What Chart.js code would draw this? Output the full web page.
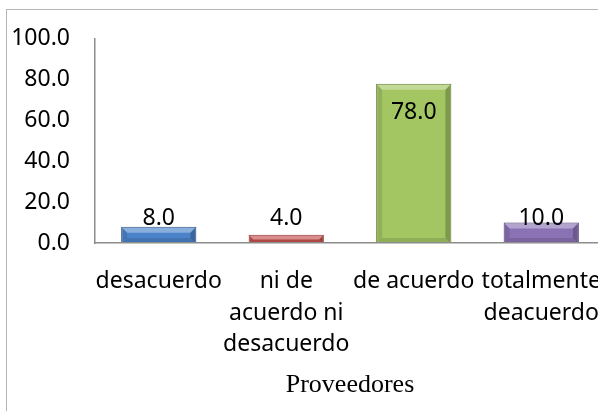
<!DOCTYPE html>
<html>
<head>
<meta charset="utf-8">
<script src="https://cdn.jsdelivr.net/npm/chart.js@4/dist/chart.umd.min.js"></script>
<style>
  body { margin: 0; overflow: hidden; background: #fff; width: 598px; height: 411px; position: relative; }
  #chart { position: absolute; left: 0; top: 0; }
  #marco { position: absolute; left: 6px; top: 9px; width: 700px; height: 500px; border: 1px solid #b5b5b5; pointer-events: none; }
</style>
</head>
<body>
<canvas id="chart" width="660" height="411"></canvas>
<div id="marco"></div>
<script>
// datos
const categorias = [
    ['desacuerdo'],
    ['ni de', 'acuerdo ni', 'desacuerdo'],
    ['de acuerdo'],
    ['totalmente', 'deacuerdo']
];
const valores = [8.0, 4.0, 78.0, 10.0];
const colores = ['#4A83C9', '#C5524E', '#A3C562', '#8B72B5'];
const bordes = ['#2E527E', '#8C3431', '#5F7A30', '#4E3A6E'];
const ticksY = [0, 20, 40, 60, 80, 100];

// biselado tipo Excel sobre cada barra
function trapecio(ctx, pts, color) {
    ctx.beginPath();
    ctx.moveTo(pts[0][0], pts[0][1]);
    pts.slice(1).forEach(p => ctx.lineTo(p[0], p[1]));
    ctx.closePath();
    ctx.fillStyle = color;
    ctx.fill();
}

const bisel = {
    id: 'bisel',
    afterDatasetDraw(chart) {
        const ctx = chart.ctx;
        const meta = chart.getDatasetMeta(0);
        ctx.save();
        meta.data.forEach((bar, i) => {
            const { x, y, base, width } = bar.getProps(['x', 'y', 'base', 'width']);
            const l = x - width / 2 + 1, r = x + width / 2 - 1, t = y + 1, b = base;
            const d = Math.min(5, (b - t) / 2);
            trapecio(ctx, [[l, t], [r, t], [r - d, t + d], [l + d, t + d]], 'rgba(255,255,255,0.35)');
            trapecio(ctx, [[l, b], [r, b], [r - d, b - d], [l + d, b - d]], 'rgba(0,0,0,0.12)');
            trapecio(ctx, [[l, t], [l + d, t + d], [l + d, b - d], [l, b]], 'rgba(0,0,0,0.10)');
            trapecio(ctx, [[r, t], [r - d, t + d], [r - d, b - d], [r, b]], 'rgba(0,0,0,0.22)');
        });
        ctx.restore();
    }
};

// etiquetas de valor encima / dentro de las barras
const etiquetas = {
    id: 'etiquetas',
    afterDatasetsDraw(chart) {
        const ctx = chart.ctx;
        const y = chart.scales.y;
        const meta = chart.getDatasetMeta(0);
        ctx.save();
        ctx.font = '23px "Noto Sans"';
        ctx.fillStyle = '#000';
        ctx.textAlign = 'center';
        ctx.textBaseline = 'middle';
        meta.data.forEach((bar, i) => {
            const v = valores[i];
            const py = v > 20 ? bar.y + 29 : y.getPixelForValue(12);
            ctx.fillText(v.toFixed(1), bar.x, py);
        });
        ctx.restore();
    }
};

const ctx = document.getElementById('chart').getContext('2d');
const grafico = new Chart(ctx, {
    type: 'bar',
    data: {
        labels: categorias,
        datasets: [{
            data: valores,
            backgroundColor: colores,
            borderColor: bordes,
            borderWidth: 1,
            categoryPercentage: 1,
            barPercentage: 0.59
        }]
    },
    options: {
        responsive: false,
        animation: false,
        devicePixelRatio: 1,
        layout: { padding: { left: 0, top: 34, right: 55, bottom: 0 } },
        plugins: {
            legend: { display: false },
            tooltip: { enabled: false }
        },
        scales: {
            x: {
                grid: { display: false, drawTicks: false },
                border: { display: true, color: '#8c8c8c', width: 1.5, z: 1 },
                ticks: {
                    color: '#000',
                    padding: 22,
                    maxRotation: 0,
                    autoSkip: false,
                    font: { family: 'Noto Sans', size: 23, lineHeight: 1.39 }
                },
                title: {
                    display: true,
                    text: 'Proveedores',
                    color: '#000',
                    font: { family: 'Liberation Serif', size: 26 },
                    padding: { top: 0, bottom: 10 }
                },
                afterFit: s => { s.height = 168; }
            },
            y: {
                min: 0,
                max: 100,
                afterBuildTicks: s => { s.ticks = ticksY.map(v => ({ value: v })); },
                grid: { display: false, drawTicks: false },
                border: { display: true, color: '#8c8c8c', width: 1.5 },
                ticks: {
                    color: '#000',
                    padding: 25,
                    font: { family: 'Noto Sans', size: 23 },
                    callback: v => v.toFixed(1)
                },
                afterFit: s => { s.width = 95; }
            }
        }
    },
    plugins: [bisel, etiquetas]
});
</script>
</body>
</html>
